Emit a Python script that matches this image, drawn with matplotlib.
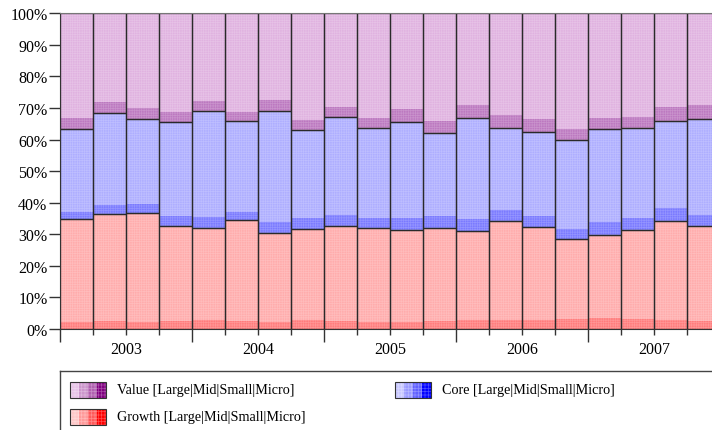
import numpy as np
import matplotlib.pyplot as plt
from matplotlib.patches import Rectangle

# quarterly style breakdown, percent of portfolio (2003 Q1 .. 2007 Q4)
years = ['2003', '2004', '2005', '2006', '2007']
growth_mid = [2.3, 2.5, 2.3, 2.4, 2.8, 2.6, 2.2, 2.8, 2.6, 2.2,
              2.2, 2.4, 2.9, 2.9, 2.8, 3.3, 3.6, 3.3, 2.9, 2.6]
growth_large = [32.4, 33.8, 34.3, 30.1, 29.1, 31.8, 28.3, 28.9, 30.1, 29.9,
                29.3, 29.6, 28.1, 31.2, 29.4, 25.2, 26.2, 28.1, 31.2, 29.9]
core_mid = [2.5, 3.1, 3.1, 3.3, 3.6, 2.8, 3.5, 3.6, 3.5, 3.1,
            3.8, 3.9, 3.8, 3.6, 3.7, 3.3, 4.1, 3.9, 4.2, 3.7]
core_large = [26.2, 29.0, 26.7, 29.7, 33.5, 28.8, 35.2, 27.6, 30.9, 28.4,
              30.2, 26.1, 31.9, 26.1, 26.6, 28.2, 29.4, 28.5, 27.6, 30.2]
value_mid = [3.4, 3.5, 3.6, 3.2, 3.3, 2.7, 3.3, 3.4, 3.3, 3.2,
             4.2, 3.9, 4.3, 4.0, 4.1, 3.4, 3.5, 3.4, 4.5, 4.6]
value_large = [33.2, 28.1, 30.0, 31.3, 27.7, 31.3, 27.5, 33.7, 29.6, 33.2,
               30.3, 34.1, 29.0, 32.2, 33.4, 36.6, 33.2, 32.8, 29.6, 29.0]

plt.rcParams['font.family'] = ['Liberation Serif', 'DejaVu Serif']
plt.rcParams['hatch.linewidth'] = 0.5

fig = plt.figure(figsize=(7.12, 4.31), dpi=100)
ax = fig.add_axes([60/712, 101/431, 660/712, 315.7/431])

x = np.arange(len(growth_mid))
segs = [growth_mid, growth_large, core_mid, core_large, value_mid, value_large]
cols = ['#ff7c7c', '#ffacac', '#7a7aff', '#aeaeff', '#bc78c0', '#e0b2e0']
bottom = np.zeros(len(x))
for vals, c in zip(segs, cols):
    ax.bar(x, vals, width=1.0, bottom=bottom, color=c, linewidth=0,
           hatch='+++++++', edgecolor=(1, 1, 1, 0.2))
    bottom = bottom + np.array(vals)

# outlines around each style group
g = np.array(growth_mid) + np.array(growth_large)
c = np.array(core_mid) + np.array(core_large)
v = np.array(value_mid) + np.array(value_large)
bottom = np.zeros(len(x))
for vals in [g, c, v]:
    ax.bar(x, vals, width=1.0, bottom=bottom, fill=False,
           edgecolor='#2a2a2a', linewidth=0.9)
    bottom = bottom + vals

ax.set_xlim(-0.5, 19.5)
ax.set_ylim(0, 100)
ax.set_yticks(np.arange(0, 101, 10))
ax.set_yticklabels([str(t) + '%' for t in range(0, 101, 10)])
ax.tick_params(axis='y', length=8, width=1, labelsize=11.5, pad=1, color='#333333')
ax.set_xticks(np.arange(-0.5, 20, 4))
ax.set_xticklabels([])
ax.set_xticks(np.arange(-0.5, 20, 1), minor=True)
ax.tick_params(axis='x', which='major', length=9, width=1, color='#333333')
ax.tick_params(axis='x', which='minor', length=4.5, width=1, color='#333333')
for i, yr in enumerate(years):
    ax.text(4 * i + 1.5, -20 / 315.7, yr, transform=ax.get_xaxis_transform(),
            ha='center', va='center', fontsize=11.5)
for s in ['left', 'bottom']:
    ax.spines[s].set_color('#333333')
ax.spines['top'].set_color('#777777')
ax.spines['right'].set_visible(False)

# legend drawn in pixel space
lg = fig.add_axes([0, 0, 1, 1])
lg.set_xlim(0, 712)
lg.set_ylim(431, 0)
lg.axis('off')
lg.plot([60, 712], [372, 372], color='#444444', lw=1)
lg.plot([60, 60], [372, 431], color='#444444', lw=1)

entries = [
    ('Value [Large|Mid|Small|Micro]', 70, 391, ['#e8c4e8', '#cc96cc', '#b060b0', '#800080']),
    ('Core [Large|Mid|Small|Micro]', 395, 391, ['#c8c8ff', '#9a9aff', '#6060ff', '#0000ff']),
    ('Growth [Large|Mid|Small|Micro]', 70, 418, ['#ffc8c8', '#ff9a9a', '#ff5a5a', '#ff0000']),
]
for label, px, py, shades in entries:
    for k, sc in enumerate(shades):
        lg.add_patch(Rectangle((px + 9 * k, py - 8), 9, 16, facecolor=sc,
                               linewidth=0, hatch='+++++', edgecolor=(1, 1, 1, 0.3)))
    lg.add_patch(Rectangle((px, py - 8), 36, 16, fill=False, edgecolor='#333333', lw=0.8))
    lg.text(px + 47, py, label, ha='left', va='center', fontsize=10.2)

fig.savefig('out.png', dpi=100)
